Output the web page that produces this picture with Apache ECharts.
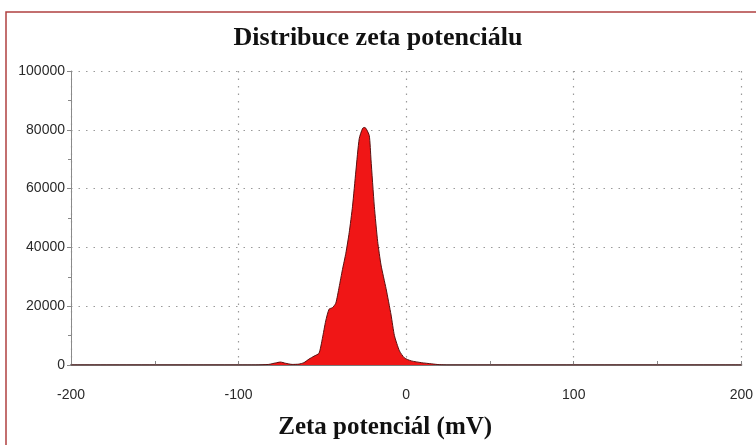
<!DOCTYPE html>
<html>
<head>
<meta charset="utf-8">
<script src="https://cdn.jsdelivr.net/npm/echarts@6/dist/echarts.min.js"></script>
<style>
  html, body { margin: 0; padding: 0; background: #ffffff; }
  #chart { width: 756px; height: 445px; }
</style>
</head>
<body>
<div id="chart"></div>
<script>
// Zeta potential distribution (mV vs. counts)
const potentials = [-200, -90, -82, -78, -75, -72, -68, -64, -61, -58, -55, -52, -50, -48, -46, -44, -42, -40, -38, -36, -34, -32, -30, -28, -26, -25, -24, -22, -21, -19, -17, -15, -12, -9, -7, -4, -1, 3, 9, 15, 20, 25, 200];
const counts = [0, 0, 200, 700, 1000, 600, 200, 300, 800, 2000, 3000, 4000, 9000, 15000, 19000, 19500, 21000, 26500, 32500, 38000, 45000, 54000, 66000, 77000, 80500, 80800, 80500, 78000, 70000, 54000, 42000, 34000, 26000, 17000, 10000, 4800, 2400, 1400, 800, 400, 100, 0, 0];

const xTicks = [-200, -100, 0, 100, 200];
const yTicks = [0, 20000, 40000, 60000, 80000, 100000];

const titleText = 'Distribuce zeta potenciálu';
const xAxisTitle = 'Zeta potenciál (mV)';

const points = potentials.map((p, i) => [p, counts[i]]);

const gridDots = { color: '#9a9a9a', width: 1.2, type: [1.5, 6] };
const labelFont = { fontFamily: 'Liberation Sans', fontSize: 14, color: '#2a2a2a' };

const chart = echarts.init(document.getElementById('chart'), null, { renderer: 'canvas' });
chart.setOption({
  backgroundColor: '#ffffff',
  animation: false,
  title: {
    text: titleText,
    left: 'center',
    top: 20,
    textStyle: { fontFamily: 'Liberation Serif', fontWeight: 'bold', fontSize: 26, color: '#111' }
  },
  graphic: [{
    type: 'rect',
    shape: { x: 6, y: 12, width: 800, height: 500 },
    style: { fill: 'none', stroke: '#b04040', lineWidth: 1.5 },
    silent: true
  }],
  grid: { left: 71, right: 4, top: 71, bottom: 78 },
  xAxis: {
    type: 'value',
    min: xTicks[0],
    max: xTicks[xTicks.length - 1],
    interval: 100,
    name: xAxisTitle,
    nameLocation: 'middle',
    nameGap: 50,
    nameTextStyle: { fontFamily: 'Liberation Serif', fontWeight: 'bold', fontSize: 25, color: '#111', padding: [0, 42, 0, 0] },
    axisLine: { lineStyle: { color: '#7a7a7a', width: 2 } },
    axisTick: { inside: true, length: 4, lineStyle: { color: '#888' } },
    minorTick: { show: true, splitNumber: 2, length: 4, lineStyle: { color: '#888' } },
    axisLabel: Object.assign({ margin: 23 }, labelFont),
    splitLine: { show: true, lineStyle: gridDots }
  },
  yAxis: {
    type: 'value',
    min: yTicks[0],
    max: yTicks[yTicks.length - 1],
    interval: 20000,
    axisLine: { show: true, onZero: false, lineStyle: { color: '#8a8a8a', width: 1 } },
    axisTick: { show: true, length: 4, lineStyle: { color: '#888' } },
    minorTick: { show: true, splitNumber: 2, length: 3, lineStyle: { color: '#888' } },
    axisLabel: Object.assign({ margin: 6, formatter: v => String(v) }, labelFont),
    splitLine: { show: true, lineStyle: gridDots }
  },
  series: [{
    type: 'line',
    data: points,
    symbol: 'none',
    smooth: 0.2,
    lineStyle: { color: '#5a1010', width: 1 },
    areaStyle: { color: '#f01616', opacity: 1 },
    z: 3
  }]
});
</script>
</body>
</html>
